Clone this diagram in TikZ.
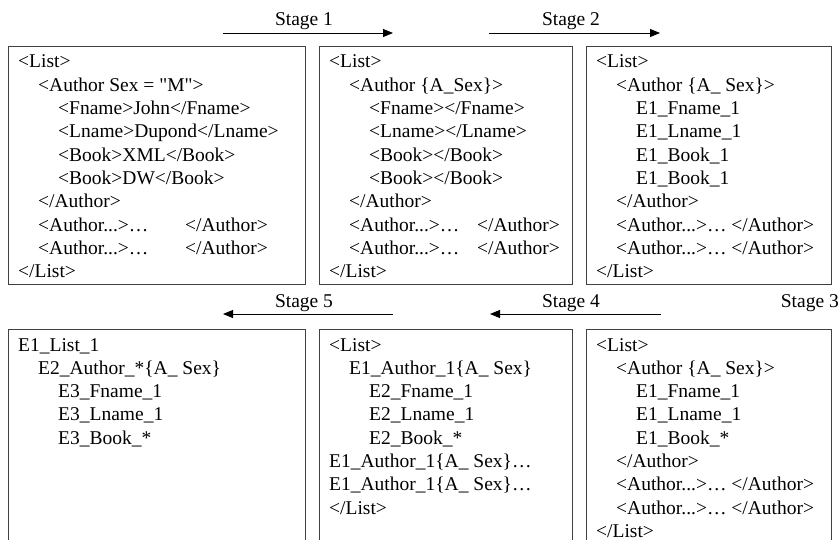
\documentclass[tikz,border=0pt]{standalone}
\usepackage{fontspec}
\setmainfont{Liberation Serif}
% same face without TeX ligatures, so that " stays a straight quote
\newfontfamily\plainserif{Liberation Serif}
\usetikzlibrary{arrows.meta}
% one line of a listing, indented by #1
\newcommand{\xl}[2]{\hbox{\hskip#1\relax #2}}
\begin{document}
\begin{tikzpicture}[x=1pt,y=-1pt,
  panel/.style={draw=black!75, line width=1pt, inner sep=0pt, outer sep=0pt,
                anchor=north west, rectangle},
  listing/.style={inner sep=0pt, anchor=base west, font=\fontsize{19.5}{23.3}\selectfont},
  stagelabel/.style={inner sep=0pt, anchor=base, font=\fontsize{19.5}{23.3}\selectfont},
  flow/.style={line width=0.9pt, -{Triangle[length=10pt,width=8pt]}}]
\useasboundingbox (0,0) rectangle (840,540);
\clip (0,0) rectangle (840,540);

% panels, top row
\node[panel, minimum width=297pt, minimum height=237pt] (p1) at (8,47) {};
\node[panel, minimum width=253pt, minimum height=237pt] (p2) at (319,47) {};
\node[panel, minimum width=245pt, minimum height=237pt] (p3) at (586,47) {};
% panels, bottom row (running past the lower edge)
\node[panel, minimum width=297pt, minimum height=240pt] (p5) at (8,329) {};
\node[panel, minimum width=253pt, minimum height=240pt] (p4) at (319,329) {};
\node[panel, minimum width=245pt, minimum height=240pt] (p6) at (586,329) {};

% listings
\node[listing] (t1) at (18,68) {\vtop{\baselineskip=23.3pt
  \xl{0pt}{<List>}
  \xl{20pt}{<Author Sex = {\plainserif "M"}>}
  \xl{40pt}{<Fname>John</Fname>}
  \xl{40pt}{<Lname>Dupond</Lname>}
  \xl{40pt}{<Book>XML</Book>}
  \xl{40pt}{<Book>DW</Book>}
  \xl{20pt}{</Author>}
  \xl{20pt}{\makebox[147pt][l]{<Author...>…}</Author>}
  \xl{20pt}{\makebox[147pt][l]{<Author...>…}</Author>}
  \xl{0pt}{</List>}}};

\node[listing] (t2) at (329,68) {\vtop{\baselineskip=23.3pt
  \xl{0pt}{<List>}
  \xl{20pt}{<Author \{A\_Sex\}>}
  \xl{40pt}{<Fname></Fname>}
  \xl{40pt}{<Lname></Lname>}
  \xl{40pt}{<Book></Book>}
  \xl{40pt}{<Book></Book>}
  \xl{20pt}{</Author>}
  \xl{20pt}{\makebox[128pt][l]{<Author...>…}</Author>}
  \xl{20pt}{\makebox[128pt][l]{<Author...>…}</Author>}
  \xl{0pt}{</List>}}};

\node[listing] (t3) at (596,68) {\vtop{\baselineskip=23.3pt
  \xl{0pt}{<List>}
  \xl{20pt}{<Author \{A\_ Sex\}>}
  \xl{40pt}{E1\_Fname\_1}
  \xl{40pt}{E1\_Lname\_1}
  \xl{40pt}{E1\_Book\_1}
  \xl{40pt}{E1\_Book\_1}
  \xl{20pt}{</Author>}
  \xl{20pt}{<Author...>… </Author>}
  \xl{20pt}{<Author...>… </Author>}
  \xl{0pt}{</List>}}};

\node[listing] (t6) at (596,351) {\vtop{\baselineskip=23.3pt
  \xl{0pt}{<List>}
  \xl{20pt}{<Author \{A\_ Sex\}>}
  \xl{40pt}{E1\_Fname\_1}
  \xl{40pt}{E1\_Lname\_1}
  \xl{40pt}{E1\_Book\_*}
  \xl{20pt}{</Author>}
  \xl{20pt}{<Author...>… </Author>}
  \xl{20pt}{<Author...>… </Author>}
  \xl{0pt}{</List>}}};

\node[listing] (t4) at (329,351) {\vtop{\baselineskip=23.3pt
  \xl{0pt}{<List>}
  \xl{20pt}{E1\_Author\_1\{A\_ Sex\}}
  \xl{40pt}{E2\_Fname\_1}
  \xl{40pt}{E2\_Lname\_1}
  \xl{40pt}{E2\_Book\_*}
  \xl{0pt}{E1\_Author\_1\{A\_ Sex\}…}
  \xl{0pt}{E1\_Author\_1\{A\_ Sex\}…}
  \xl{0pt}{</List>}}};

\node[listing] (t5) at (18,351) {\vtop{\baselineskip=23.3pt
  \xl{0pt}{E1\_List\_1}
  \xl{20pt}{E2\_Author\_*\{A\_ Sex\}}
  \xl{40pt}{E3\_Fname\_1}
  \xl{40pt}{E3\_Lname\_1}
  \xl{40pt}{E3\_Book\_*}}};

% stage arrows
\coordinate (s1a) at (223,33);  \coordinate (s1b) at (393,33);
\coordinate (s2a) at (489,33);  \coordinate (s2b) at (660,33);
\coordinate (s5a) at (393,314); \coordinate (s5b) at (223,314);
\coordinate (s4a) at (661,314); \coordinate (s4b) at (490,314);
\draw[flow] (s1a) -- (s1b);
\draw[flow] (s2a) -- (s2b);
\draw[flow] (s5a) -- (s5b);
\draw[flow] (s4a) -- (s4b);

\node[stagelabel] (l1) at (304,26) {Stage 1};
\node[stagelabel] (l2) at (571,26) {Stage 2};
\node[stagelabel] (l5) at (304,307) {Stage 5};
\node[stagelabel] (l4) at (571,307) {Stage 4};
\node[stagelabel, anchor=base east] (l3) at (839,307) {Stage 3};
\end{tikzpicture}
\end{document}
